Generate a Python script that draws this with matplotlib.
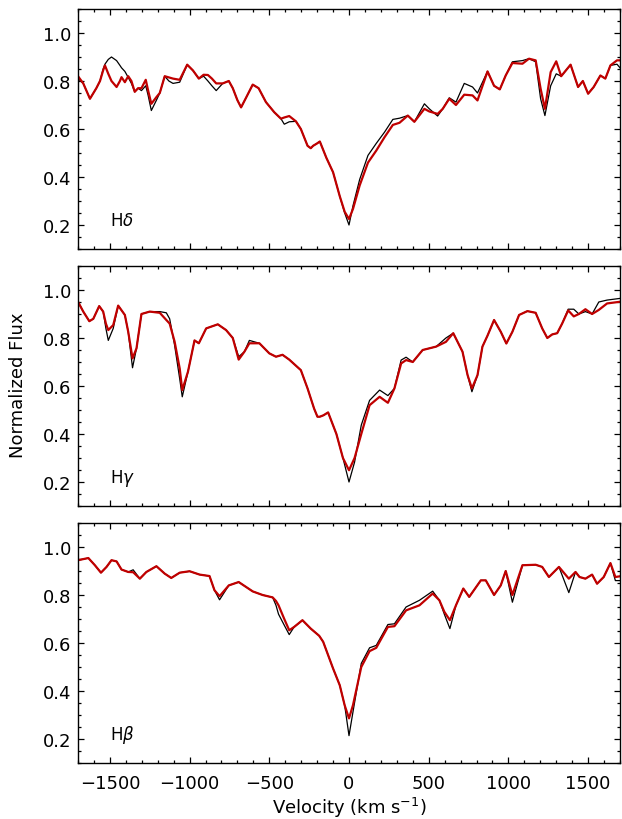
"""Balmer line profiles (H-delta, H-gamma, H-beta): observed vs model."""

import matplotlib

matplotlib.use("Agg")
import matplotlib.pyplot as plt
from matplotlib.ticker import MultipleLocator

# ---- H delta -------------------------------------------------------------
hd_vel = [
    -1700, -1667, -1625, -1585, -1562, -1542, -1531, -1510, -1490, -1458,
    -1437, -1427, -1406, -1385, -1365, -1344, -1323, -1302, -1275, -1260,
    -1240, -1208, -1187, -1156, -1130, -1104, -1062, -1015, -979, -942,
    -912, -885, -860, -833, -792, -754, -729, -700, -677, -646,
    -604, -567, -521, -469, -427, -406, -375, -333, -302, -260,
    -240, -225, -200, -183, -142, -100, -58, -27, 0, 25,
    67, 119, 171, 223, 275, 317, 369, 410, 473, 504,
    556, 588, 629, 671, 723, 775, 806, 869, 910, 946,
    983, 1025, 1088, 1129, 1171, 1202, 1229, 1265, 1300, 1331,
    1390, 1437, 1467, 1500, 1535, 1577, 1608, 1640, 1681, 1700,
]
hd_obs = [
    0.81, 0.79, 0.726, 0.77, 0.80, 0.85, 0.87, 0.89, 0.90, 0.885,
    0.865, 0.855, 0.84, 0.815, 0.79, 0.755, 0.77, 0.76, 0.78, 0.74,
    0.677, 0.72, 0.75, 0.82, 0.80, 0.79, 0.795, 0.868, 0.844, 0.81,
    0.82, 0.80, 0.78, 0.76, 0.79, 0.80, 0.77, 0.72, 0.69, 0.73,
    0.785, 0.77, 0.712, 0.67, 0.643, 0.62, 0.63, 0.632, 0.60, 0.53,
    0.52, 0.53, 0.54, 0.548, 0.48, 0.42, 0.32, 0.25, 0.20, 0.28,
    0.39, 0.49, 0.54, 0.587, 0.64, 0.645, 0.656, 0.63, 0.705, 0.684,
    0.654, 0.684, 0.73, 0.712, 0.79, 0.775, 0.75, 0.84, 0.78, 0.765,
    0.823, 0.88, 0.885, 0.893, 0.88, 0.726, 0.656, 0.78, 0.83, 0.82,
    0.868, 0.775, 0.80, 0.747, 0.775, 0.823, 0.81, 0.865, 0.87, 0.855,
]
hd_mod = [
    0.82, 0.79, 0.726, 0.77, 0.80, 0.845, 0.865, 0.83, 0.80, 0.775,
    0.80, 0.816, 0.795, 0.82, 0.80, 0.755, 0.77, 0.77, 0.805, 0.76,
    0.705, 0.733, 0.75, 0.82, 0.815, 0.81, 0.805, 0.868, 0.844, 0.81,
    0.826, 0.825, 0.81, 0.79, 0.79, 0.80, 0.77, 0.72, 0.69, 0.73,
    0.785, 0.77, 0.712, 0.67, 0.643, 0.648, 0.654, 0.632, 0.60, 0.53,
    0.52, 0.53, 0.54, 0.548, 0.48, 0.42, 0.32, 0.255, 0.225, 0.267,
    0.365, 0.46, 0.51, 0.566, 0.617, 0.626, 0.656, 0.63, 0.684, 0.673,
    0.663, 0.684, 0.726, 0.70, 0.743, 0.74, 0.719, 0.84, 0.78, 0.765,
    0.823, 0.875, 0.872, 0.893, 0.886, 0.768, 0.684, 0.837, 0.882, 0.82,
    0.868, 0.775, 0.80, 0.747, 0.775, 0.823, 0.81, 0.865, 0.886, 0.886,
]

# ---- H gamma -------------------------------------------------------------
hg_vel = [
    -1700, -1667, -1629, -1604, -1567, -1542, -1525, -1510, -1479, -1448,
    -1406, -1385, -1358, -1333, -1302, -1250, -1187, -1146, -1125, -1094,
    -1062, -1046, -1010, -969, -942, -896, -823, -771, -729, -692,
    -656, -625, -562, -500, -458, -417, -375, -302, -260, -219,
    -198, -183, -160, -131, -79, -38, 0, 35, 77, 129,
    192, 244, 285, 327, 358, 400, 462, 546, 608, 654,
    712, 744, 771, 806, 837, 869, 910, 952, 987, 1025,
    1067, 1119, 1171, 1212, 1244, 1275, 1306, 1337, 1375, 1410,
    1442, 1483, 1525, 1567, 1619, 1700,
]
hg_obs = [
    0.951, 0.91, 0.87, 0.88, 0.933, 0.91, 0.84, 0.79, 0.84, 0.935,
    0.896, 0.826, 0.676, 0.757, 0.90, 0.91, 0.91, 0.905, 0.88, 0.77,
    0.63, 0.555, 0.66, 0.79, 0.778, 0.84, 0.857, 0.833, 0.80, 0.722,
    0.743, 0.79, 0.778, 0.736, 0.722, 0.73, 0.71, 0.666, 0.59, 0.506,
    0.472, 0.472, 0.478, 0.49, 0.40, 0.30, 0.20, 0.283, 0.437, 0.54,
    0.583, 0.56, 0.59, 0.708, 0.72, 0.70, 0.75, 0.764, 0.80, 0.82,
    0.743, 0.645, 0.576, 0.645, 0.764, 0.81, 0.875, 0.826, 0.777, 0.826,
    0.896, 0.912, 0.905, 0.84, 0.80, 0.815, 0.82, 0.86, 0.92, 0.92,
    0.90, 0.91, 0.90, 0.95, 0.958, 0.965,
]
hg_mod = [
    0.951, 0.91, 0.87, 0.88, 0.933, 0.91, 0.86, 0.833, 0.854, 0.935,
    0.896, 0.826, 0.715, 0.757, 0.90, 0.91, 0.905, 0.875, 0.86, 0.785,
    0.673, 0.583, 0.66, 0.79, 0.778, 0.84, 0.857, 0.833, 0.80, 0.71,
    0.743, 0.778, 0.778, 0.736, 0.722, 0.73, 0.71, 0.666, 0.59, 0.506,
    0.472, 0.472, 0.478, 0.49, 0.40, 0.30, 0.249, 0.30, 0.40, 0.52,
    0.555, 0.53, 0.59, 0.694, 0.708, 0.70, 0.75, 0.764, 0.784, 0.82,
    0.743, 0.645, 0.59, 0.645, 0.764, 0.81, 0.875, 0.826, 0.777, 0.826,
    0.896, 0.912, 0.905, 0.84, 0.80, 0.815, 0.82, 0.86, 0.915, 0.89,
    0.90, 0.92, 0.90, 0.917, 0.944, 0.951,
]

# ---- H beta --------------------------------------------------------------
hb_vel = [
    -1700, -1635, -1594, -1556, -1521, -1490, -1458, -1427, -1385, -1354,
    -1312, -1271, -1208, -1156, -1115, -1062, -1000, -937, -875, -844,
    -812, -754, -692, -604, -542, -479, -458, -442, -406, -375,
    -344, -292, -240, -187, -162, -100, -58, -27, 0, 25,
    77, 129, 171, 244, 285, 358, 442, 525, 567, 598,
    633, 671, 717, 754, 827, 858, 910, 952, 983, 1025,
    1088, 1171, 1212, 1254, 1317, 1379, 1421, 1446, 1483, 1525,
    1556, 1598, 1640, 1671, 1700,
]
hb_obs = [
    0.945, 0.954, 0.924, 0.893, 0.917, 0.945, 0.94, 0.906, 0.896, 0.905,
    0.868, 0.896, 0.92, 0.889, 0.871, 0.893, 0.899, 0.885, 0.879, 0.82,
    0.78, 0.84, 0.854, 0.815, 0.80, 0.79, 0.757, 0.72, 0.674, 0.635,
    0.667, 0.695, 0.66, 0.63, 0.605, 0.494, 0.424, 0.34, 0.214, 0.313,
    0.515, 0.58, 0.59, 0.677, 0.68, 0.75, 0.778, 0.816, 0.778, 0.72,
    0.66, 0.757, 0.827, 0.792, 0.861, 0.861, 0.80, 0.84, 0.90, 0.77,
    0.924, 0.926, 0.917, 0.875, 0.917, 0.81, 0.896, 0.875, 0.868, 0.885,
    0.847, 0.875, 0.933, 0.86, 0.86,
]
hb_mod = [
    0.945, 0.954, 0.924, 0.893, 0.917, 0.945, 0.94, 0.906, 0.896, 0.895,
    0.868, 0.896, 0.92, 0.889, 0.871, 0.893, 0.899, 0.885, 0.879, 0.82,
    0.795, 0.84, 0.854, 0.815, 0.80, 0.79, 0.775, 0.757, 0.70, 0.653,
    0.667, 0.695, 0.66, 0.63, 0.605, 0.494, 0.424, 0.34, 0.286, 0.341,
    0.50, 0.566, 0.58, 0.667, 0.67, 0.736, 0.757, 0.806, 0.778, 0.73,
    0.695, 0.757, 0.827, 0.792, 0.861, 0.861, 0.80, 0.84, 0.90, 0.80,
    0.924, 0.926, 0.917, 0.875, 0.917, 0.868, 0.896, 0.875, 0.868, 0.885,
    0.847, 0.875, 0.933, 0.875, 0.878,
]

PANELS = [
    ("H$\\delta$", hd_vel, hd_obs, hd_mod),
    ("H$\\gamma$", hg_vel, hg_obs, hg_mod),
    ("H$\\beta$", hb_vel, hb_obs, hb_mod),
]

OBS_COLOR = "black"
MOD_COLOR = "#c00000"

plt.rcParams["font.family"] = "DejaVu Sans"
plt.rcParams["mathtext.fontset"] = "dejavusans"

fig = plt.figure(figsize=(6.22, 8.20), dpi=100)

left, width, height = 78 / 622, 542 / 622, 240 / 820
bottoms = [1 - 250 / 820, 1 - 507 / 820, 1 - 764 / 820]

axes = []
for i, ((label, vel, obs, mod), bottom) in enumerate(zip(PANELS, bottoms)):
    ax = fig.add_axes([left, bottom, width, height])
    ax.plot(vel, obs, color=OBS_COLOR, lw=0.9)
    ax.plot(vel, mod, color=MOD_COLOR, lw=1.6)
    ax.set_xlim(-1700, 1700)
    ax.set_ylim(0.1, 1.1)
    ax.xaxis.set_major_locator(MultipleLocator(500))
    ax.xaxis.set_minor_locator(MultipleLocator(100))
    ax.yaxis.set_major_locator(MultipleLocator(0.2))
    ax.yaxis.set_minor_locator(MultipleLocator(0.05))
    ax.tick_params(which="both", direction="in", top=True, right=True,
                   labelsize=13, width=0.9)
    ax.tick_params(which="major", length=4)
    ax.tick_params(which="minor", length=2.3)
    ax.tick_params(axis="y", pad=5)
    ax.tick_params(axis="x", pad=8)
    for spine in ax.spines.values():
        spine.set_linewidth(1.0)
    ax.text(-1500, 0.22, label, fontsize=12, ha="left", va="center")
    if i < 2:
        ax.tick_params(labelbottom=False)
    axes.append(ax)

axes[-1].set_xlabel("Velocity (km s$^{-1}$)", fontsize=13, labelpad=2)
fig.text(18 / 622, 1 - 385 / 820, "Normalized Flux", rotation=90,
         ha="center", va="center", fontsize=13)

fig.savefig("out.png", dpi=100)
